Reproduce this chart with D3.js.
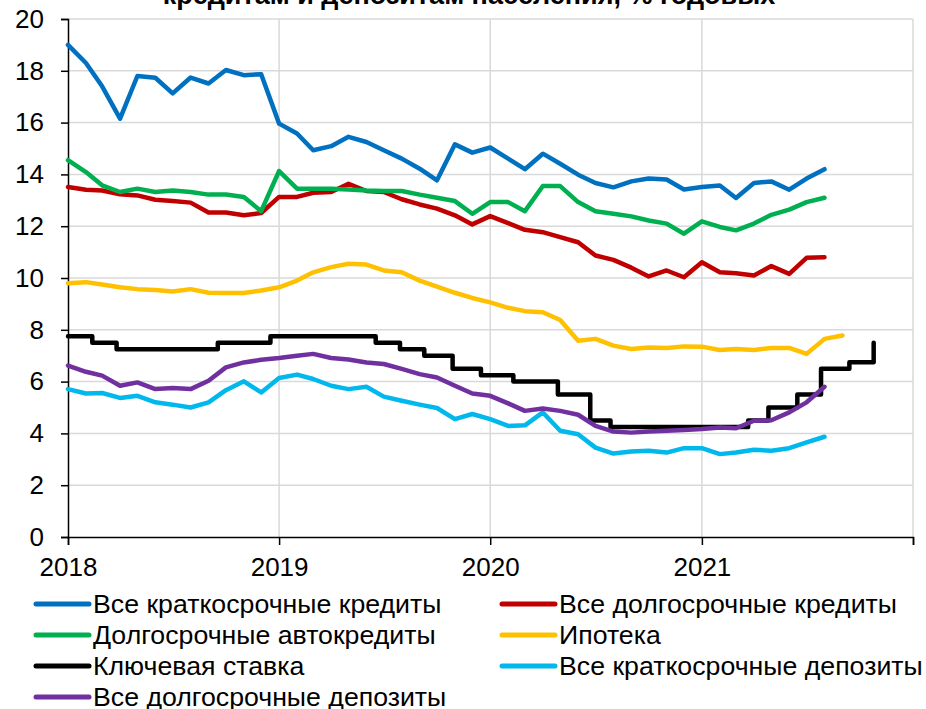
<!DOCTYPE html>
<html>
<head>
<meta charset="utf-8">
<script src="https://d3js.org/d3.v7.min.js"></script>
<style>
body { margin: 0; background: #fff; }
text { font-family: Arial, "Liberation Sans", sans-serif; fill: #000; }
</style>
</head>
<body>
<svg id="chart" width="926" height="709"></svg>
<script>
// monthly series, Jan 2018 .. Aug 2021 (mortgage to Sep 2021)
var shortCredits = [19.0, 18.3, 17.4, 16.15, 17.8, 17.73, 17.13, 17.74, 17.51, 18.03, 17.83, 17.87,
  15.96, 15.58, 14.93, 15.09, 15.45, 15.25, 14.93, 14.61, 14.22, 13.77, 15.16, 14.84,
  15.04, 14.61, 14.2, 14.8, 14.41, 13.99, 13.67, 13.5, 13.73, 13.84, 13.8, 13.42,
  13.51, 13.57, 13.09, 13.67, 13.73, 13.41, 13.84, 14.2];
var longCredits = [13.51, 13.41, 13.38, 13.23, 13.19, 13.02, 12.97, 12.91, 12.53, 12.53, 12.42, 12.51,
  13.13, 13.13, 13.29, 13.32, 13.64, 13.36, 13.32, 13.04, 12.84, 12.68, 12.42, 12.07,
  12.39, 12.12, 11.86, 11.77, 11.58, 11.38, 10.87, 10.7, 10.4, 10.06, 10.29, 10.03,
  10.61, 10.22, 10.18, 10.1, 10.46, 10.16, 10.78, 10.8];
var autoCredits = [14.55, 14.09, 13.58, 13.32, 13.45, 13.32, 13.38, 13.32, 13.22, 13.22, 13.13, 12.58,
  14.13, 13.45, 13.45, 13.45, 13.42, 13.38, 13.36, 13.36, 13.22, 13.1, 12.97, 12.48,
  12.93, 12.93, 12.58, 13.55, 13.55, 12.93, 12.58, 12.48, 12.38, 12.22, 12.1, 11.71,
  12.19, 11.97, 11.84, 12.1, 12.44, 12.64, 12.93, 13.1];
var mortgage = [9.8, 9.84, 9.75, 9.64, 9.57, 9.54, 9.48, 9.57, 9.43, 9.42, 9.42, 9.52,
  9.64, 9.9, 10.22, 10.42, 10.55, 10.52, 10.29, 10.22, 9.9, 9.67, 9.43, 9.23,
  9.06, 8.85, 8.72, 8.68, 8.38, 7.58, 7.65, 7.39, 7.26, 7.32, 7.3, 7.36,
  7.35, 7.22, 7.26, 7.22, 7.3, 7.3, 7.07, 7.65, 7.78];
var shortDeposits = [5.71, 5.54, 5.56, 5.37, 5.45, 5.2, 5.11, 5.0, 5.2, 5.67, 6.01, 5.58,
  6.14, 6.27, 6.1, 5.84, 5.71, 5.8, 5.42, 5.26, 5.11, 4.98, 4.55, 4.75,
  4.55, 4.29, 4.31, 4.81, 4.1, 3.97, 3.45, 3.22, 3.3, 3.33, 3.26, 3.43,
  3.43, 3.2, 3.26, 3.37, 3.33, 3.43, 3.65, 3.87];
var longDeposits = [6.62, 6.38, 6.23, 5.84, 5.97, 5.71, 5.75, 5.71, 6.03, 6.55, 6.74, 6.84,
  6.91, 7.0, 7.07, 6.91, 6.85, 6.74, 6.68, 6.49, 6.29, 6.16, 5.84, 5.54,
  5.45, 5.16, 4.87, 4.96, 4.87, 4.72, 4.29, 4.07, 4.03, 4.07, 4.1, 4.13,
  4.17, 4.23, 4.2, 4.49, 4.51, 4.81, 5.2, 5.8];

// key rate: decision dates and new values
var keyRateDates = ["2018-01-01", "2018-02-12", "2018-03-26", "2018-09-17", "2018-12-17", "2019-06-17",
  "2019-07-29", "2019-09-09", "2019-10-28", "2019-12-16", "2020-02-10", "2020-04-27",
  "2020-06-22", "2020-07-27", "2021-03-22", "2021-04-26", "2021-06-15", "2021-07-26",
  "2021-09-13", "2021-10-25"];
var keyRateValues = [7.75, 7.5, 7.25, 7.5, 7.75, 7.5, 7.25, 7.0, 6.5, 6.25, 6.0, 5.5,
  4.5, 4.25, 4.5, 5.0, 5.5, 6.5, 6.75, 7.5];

var yTicks = [0, 2, 4, 6, 8, 10, 12, 14, 16, 18, 20];
var yearTicks = ["2018", "2019", "2020", "2021", "2022"];
var yearLabels = ["2018", "2019", "2020", "2021", ""];

var names = ["Все краткосрочные кредиты", "Все долгосрочные кредиты", "Долгосрочные автокредиты",
  "Ипотека", "Ключевая ставка", "Все краткосрочные депозиты", "Все долгосрочные депозиты"];
var colors = ["#0070C0", "#C00000", "#00B050", "#FFC000", "#000000", "#00B8EC", "#7030A0"];

var parse = d3.timeParse("%Y-%m-%d");
var yearParse = d3.timeParse("%Y");
var months = d3.timeMonth.range(parse("2018-01-01"), parse("2021-10-01"));

var svg = d3.select("#chart");

var x = d3.scaleTime()
  .domain([parse("2018-01-01"), parse("2022-01-01")])
  .range([68, 913]);
var y = d3.scaleLinear()
  .domain([0, 20])
  .range([537, 19]);

// title (second line, mostly off the top)
svg.append("text")
  .attr("x", 469)
  .attr("y", 4)
  .attr("text-anchor", "middle")
  .style("font-size", "27px")
  .style("font-weight", "bold")
  .text("кредитам и депозитам населения, % годовых");

// grid
svg.append("g").selectAll("line")
  .data(yTicks.slice(1))
  .enter().append("line")
  .attr("x1", x.range()[0]).attr("x2", x.range()[1])
  .attr("y1", function(d) { return y(d); })
  .attr("y2", function(d) { return y(d); })
  .attr("stroke", "#d9d9d9").attr("stroke-width", 1.5);
svg.append("g").selectAll("line")
  .data(yearTicks.slice(1))
  .enter().append("line")
  .attr("x1", function(d) { return x(yearParse(d)); })
  .attr("x2", function(d) { return x(yearParse(d)); })
  .attr("y1", y(20)).attr("y2", y(0))
  .attr("stroke", "#d9d9d9").attr("stroke-width", 1.5);

// axes
var yAxis = svg.append("g")
  .attr("transform", "translate(68,0)")
  .call(d3.axisLeft(y).tickValues(yTicks).tickSize(7).tickPadding(17).tickFormat(d3.format("d")));
var xAxis = svg.append("g")
  .attr("transform", "translate(0,537)")
  .call(d3.axisBottom(x)
    .tickValues(yearTicks.map(function(d) { return yearParse(d); }))
    .tickSize(8).tickPadding(13)
    .tickFormat(function(d, i) { return yearLabels[i]; }));
[yAxis, xAxis].forEach(function(g) {
  g.select(".domain").attr("stroke", "#000").attr("stroke-width", 1.5);
  g.selectAll(".tick line").attr("stroke", "#000").attr("stroke-width", 1.5);
  g.selectAll("text").style("font-size", "26px").style("font-family", "Arial, 'Liberation Sans', sans-serif");
});

// lines
var line = d3.line()
  .x(function(d) { return x(d[0]); })
  .y(function(d) { return y(d[1]); });
var stepLine = d3.line()
  .curve(d3.curveStepAfter)
  .x(function(d) { return x(d[0]); })
  .y(function(d) { return y(d[1]); });

function monthly(vals) {
  return vals.map(function(v, i) { return [months[i], v]; });
}
var keyRate = keyRateDates.map(function(d, i) { return [parse(d), keyRateValues[i]]; });

var series = [monthly(shortCredits), monthly(longCredits), monthly(autoCredits), monthly(mortgage),
  keyRate, monthly(shortDeposits), monthly(longDeposits)];

series.forEach(function(s, i) {
  svg.append("path")
    .datum(s)
    .attr("fill", "none")
    .attr("stroke", colors[i])
    .attr("stroke-width", 4.5)
    .attr("stroke-linejoin", "round")
    .attr("stroke-linecap", "round")
    .attr("d", i == 4 ? stepLine : line);
});

// legend
var legend = svg.append("g");
names.forEach(function(n, i) {
  var lx = (i % 2 == 0) ? 36 : 502;
  var ly = 604 + Math.floor(i / 2) * 31;
  legend.append("line")
    .attr("x1", lx).attr("x2", lx + 53)
    .attr("y1", ly).attr("y2", ly)
    .attr("stroke", colors[i]).attr("stroke-width", 5)
    .attr("stroke-linecap", "round");
  legend.append("text")
    .attr("x", lx + 57)
    .attr("y", ly + 9)
    .style("font-size", "26.7px")
    .text(n);
});
</script>
</body>
</html>
